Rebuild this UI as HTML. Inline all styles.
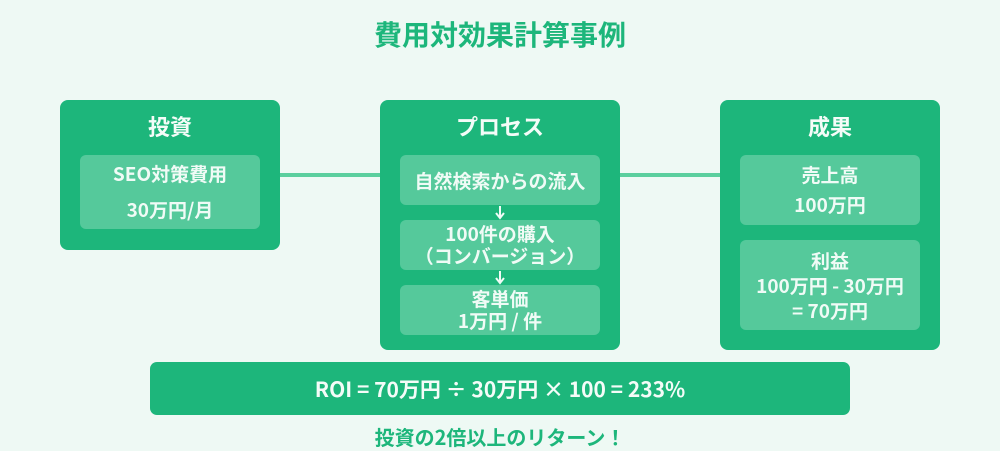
<!DOCTYPE html>
<html><head><meta charset="utf-8"><style>
*{margin:0;padding:0;box-sizing:border-box}
body{width:1000px;height:450px;background:#eef9f4;position:relative;overflow:hidden;font-family:"Noto Sans CJK JP","Liberation Sans",sans-serif;font-weight:bold}
.a{position:absolute}
.box{background:#1db67b;border-radius:8px}
.in{background:#55c99b;border-radius:6px;color:#f0fbf6;display:flex;flex-direction:column;align-items:center;justify-content:center;text-align:center;font-size:19px}
.h{color:#f4fcf8;font-size:22px;text-align:center;line-height:30px}
.line{background:#5bcf9e;height:4px}
</style></head><body>
<div class="a" style="left:0;width:1000px;top:14px;text-align:center;color:#1db67b;font-size:28px;line-height:40px">費用対効果計算事例</div>
<div class="a line" style="left:280px;width:100px;top:173px"></div>
<div class="a line" style="left:620px;width:100px;top:173px"></div>

<div class="a box" style="left:60px;top:100px;width:220px;height:150px"></div>
<div class="a h" style="left:60px;width:220px;top:111px">投資</div>
<div class="a in" style="left:80px;top:155px;width:180px;height:74px;line-height:36px">SEO対策費用<br>30万円/月</div>

<div class="a box" style="left:380px;top:100px;width:240px;height:250px"></div>
<div class="a h" style="left:380px;width:240px;top:111px">プロセス</div>
<div class="a in" style="left:400px;top:155px;width:200px;height:50px">自然検索からの流入</div>
<div class="a in" style="left:400px;top:220px;width:200px;height:50px;line-height:22px">100件の購入<br>（コンバージョン）</div>
<div class="a in" style="left:400px;top:285px;width:200px;height:50px;line-height:22px">客単価<br>1万円 / 件</div>
<svg class="a" style="left:490px;top:204px" width="20" height="82"><g stroke="#f0fbf6" stroke-width="2" fill="none"><line x1="10" y1="2" x2="10" y2="13"/><polyline points="6,9 10,14 14,9"/><line x1="10" y1="67" x2="10" y2="78"/><polyline points="6,74 10,79 14,74"/></g></svg>

<div class="a box" style="left:720px;top:100px;width:220px;height:250px"></div>
<div class="a h" style="left:720px;width:220px;top:111px">成果</div>
<div class="a in" style="left:740px;top:155px;width:180px;height:70px;line-height:30px">売上高<br>100万円</div>
<div class="a in" style="left:740px;top:240px;width:180px;height:90px;line-height:25px">利益<br>100万円 - 30万円<br>= 70万円</div>

<div class="a box" style="left:150px;top:362px;width:700px;height:53px;border-radius:7px;color:#f4fcf8;font-size:21px;display:flex;align-items:center;justify-content:center">ROI = 70万円 ÷ 30万円 × 100 = 233%</div>
<div class="a" style="left:0;width:1000px;top:423px;text-align:center;color:#1db67b;font-size:20px;line-height:28px">投資の2倍以上のリターン！</div>
</body></html>
